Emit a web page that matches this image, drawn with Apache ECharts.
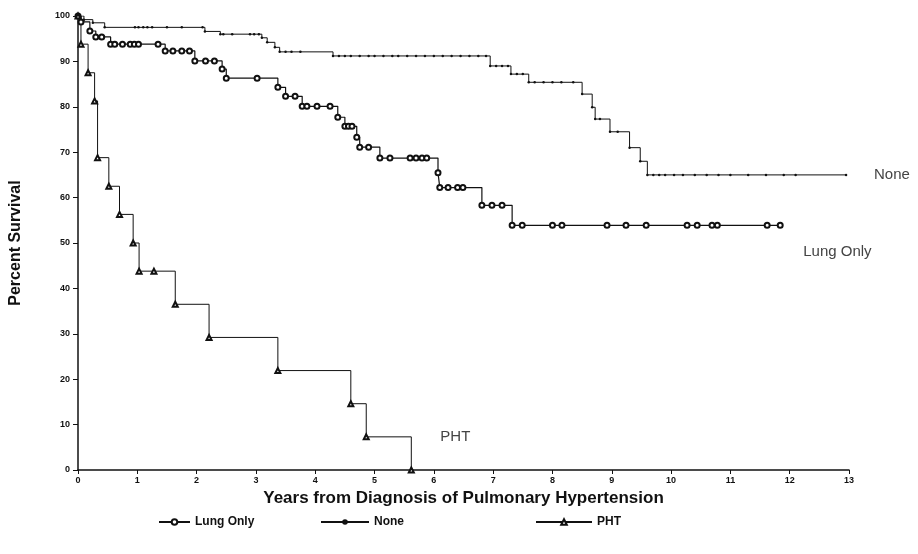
<!DOCTYPE html>
<html>
<head>
<meta charset="utf-8">
<script src="https://cdn.jsdelivr.net/npm/echarts@6/dist/echarts.min.js"></script>
<style>html,body{margin:0;padding:0;background:#fff}#c{width:918px;height:554px}</style>
</head>
<body>
<div id="c"></div>
<script>
// Kaplan-Meier data: [year, percent survival]
var lungOnly = [[0,100],[0.05,98.7],[0.2,96.7],[0.3,95.4],[0.4,95.4],[0.55,93.8],[0.62,93.8],[0.75,93.8],[0.88,93.8],[0.95,93.8],[1.02,93.8],[1.35,93.8],[1.47,92.3],[1.6,92.3],[1.75,92.3],[1.88,92.3],[1.97,90.1],[2.15,90.1],[2.3,90.1],[2.43,88.3],[2.5,86.3],[3.02,86.3],[3.37,84.3],[3.5,82.3],[3.66,82.3],[3.78,80.1],[3.86,80.1],[4.03,80.1],[4.25,80.1],[4.38,77.7],[4.5,75.7],[4.56,75.7],[4.62,75.7],[4.7,73.3],[4.75,71.1],[4.9,71.1],[5.09,68.7],[5.26,68.7],[5.6,68.7],[5.7,68.7],[5.8,68.7],[5.88,68.7],[6.07,65.5],[6.1,62.2],[6.24,62.2],[6.4,62.2],[6.49,62.2],[6.81,58.3],[6.98,58.3],[7.15,58.3],[7.32,53.9],[7.49,53.9],[8.0,53.9],[8.16,53.9],[8.92,53.9],[9.24,53.9],[9.58,53.9],[10.27,53.9],[10.44,53.9],[10.69,53.9],[10.78,53.9],[11.62,53.9],[11.84,53.9]];
var none = [[0,100],[0.1,99.2],[0.25,98.5],[0.45,97.5],[0.96,97.5],[1.02,97.5],[1.1,97.5],[1.17,97.5],[1.25,97.5],[1.5,97.5],[1.75,97.5],[2.1,97.5],[2.14,96.6],[2.4,96.0],[2.45,96.0],[2.6,96.0],[2.9,96.0],[2.97,96.0],[3.05,96.0],[3.1,95.2],[3.19,94.2],[3.32,93.1],[3.4,92.1],[3.5,92.1],[3.6,92.1],[3.75,92.1],[4.3,91.2],[4.4,91.2],[4.5,91.2],[4.6,91.2],[4.75,91.2],[4.9,91.2],[5.0,91.2],[5.15,91.2],[5.3,91.2],[5.4,91.2],[5.55,91.2],[5.7,91.2],[5.85,91.2],[6.0,91.2],[6.15,91.2],[6.3,91.2],[6.45,91.2],[6.6,91.2],[6.75,91.2],[6.88,91.2],[6.95,89.0],[7.05,89.0],[7.15,89.0],[7.25,89.0],[7.3,87.2],[7.4,87.2],[7.5,87.2],[7.6,85.4],[7.7,85.4],[7.85,85.4],[8.0,85.4],[8.15,85.4],[8.35,85.4],[8.5,82.8],[8.67,79.9],[8.72,77.3],[8.8,77.3],[8.97,74.5],[9.1,74.5],[9.3,71.0],[9.48,68.0],[9.6,65.0],[9.7,65.0],[9.8,65.0],[9.9,65.0],[10.05,65.0],[10.2,65.0],[10.4,65.0],[10.6,65.0],[10.8,65.0],[11.0,65.0],[11.3,65.0],[11.6,65.0],[11.9,65.0],[12.1,65.0],[12.95,65.0]];
var pht = [[0,100],[0.05,93.8],[0.17,87.5],[0.28,81.3],[0.33,68.8],[0.52,62.5],[0.7,56.3],[0.93,50.0],[1.03,43.8],[1.28,43.8],[1.64,36.5],[2.21,29.2],[3.37,21.9],[4.6,14.6],[4.86,7.3],[5.62,0]];
var yTicks = [0,10,20,30,40,50,60,70,80,90,100];
var xTicks = [0,1,2,3,4,5,6,7,8,9,10,11,12,13];
var seriesNames = ['Lung Only','None','PHT'];

var chart = echarts.init(document.getElementById('c'));
var lineCol = '#111';
var FONT = 'Liberation Sans, Arial, sans-serif';
var endLbl = function(txt, off){
  return {show:true, formatter:txt, offset:off, color:'#444', fontFamily:FONT, fontSize:15, fontWeight:'normal'};
};
var legTxt = {fontFamily:FONT, fontWeight:'bold', fontSize:12, color:'#111'};
chart.setOption({
  animation:false,
  backgroundColor:'#fff',
  grid:{left:78, right:69, top:16, bottom:84},
  xAxis:{type:'value', min:0, max:13, interval:1,
    name:'Years from Diagnosis of Pulmonary Hypertension', nameLocation:'middle', nameGap:16,
    nameTextStyle:{fontFamily:FONT, fontWeight:'bold', fontSize:17, color:'#111'},
    axisLine:{lineStyle:{color:'#111', width:1.5}},
    axisTick:{show:true, length:4, lineStyle:{color:'#111'}},
    axisLabel:{fontFamily:FONT, fontWeight:'bold', fontSize:9, color:'#111', margin:6,
      formatter:function(v){return xTicks.indexOf(v)>=0? String(v):'';}},
    splitLine:{show:false}},
  yAxis:{type:'value', min:0, max:100, interval:10,
    name:'Percent Survival', nameLocation:'middle', nameGap:54, nameRotate:90,
    nameTextStyle:{fontFamily:FONT, fontWeight:'bold', fontSize:16, color:'#111'},
    axisLine:{show:true, lineStyle:{color:'#111', width:1.5}},
    axisTick:{show:true, length:5, lineStyle:{color:'#111'}},
    axisLabel:{fontFamily:FONT, fontWeight:'bold', fontSize:9, color:'#111', margin:8,
      formatter:function(v){return yTicks.indexOf(v)>=0? String(v):'';}},
    splitLine:{show:false}},
  legend:[
    {bottom:26, left:158, padding:0, itemWidth:31, itemHeight:7, textStyle:legTxt, data:[seriesNames[0]]},
    {bottom:26, left:320, padding:0, itemWidth:48, itemHeight:7, textStyle:legTxt, data:[seriesNames[1]]},
    {bottom:26, left:535, padding:0, itemWidth:56, itemHeight:7, textStyle:legTxt, data:[seriesNames[2]]}
  ],
  series:[
    {name:seriesNames[0], type:'line', step:'end', data:lungOnly, symbol:'emptyCircle', symbolSize:5,
      lineStyle:{color:lineCol, width:1.2}, itemStyle:{color:lineCol, borderWidth:1.2},
      endLabel:endLbl('Lung Only',[15,27])},
    {name:seriesNames[1], type:'line', step:'end', data:none, symbol:'circle', symbolSize:2.5,
      lineStyle:{color:lineCol, width:1}, itemStyle:{color:lineCol},
      endLabel:endLbl('None',[20,0])},
    {name:seriesNames[2], type:'line', step:'end', data:pht, symbol:'emptyTriangle', symbolSize:5,
      lineStyle:{color:lineCol, width:1}, itemStyle:{color:lineCol, borderWidth:1},
      endLabel:endLbl('PHT',[21,-33])}
  ]
});
</script>
</body>
</html>
